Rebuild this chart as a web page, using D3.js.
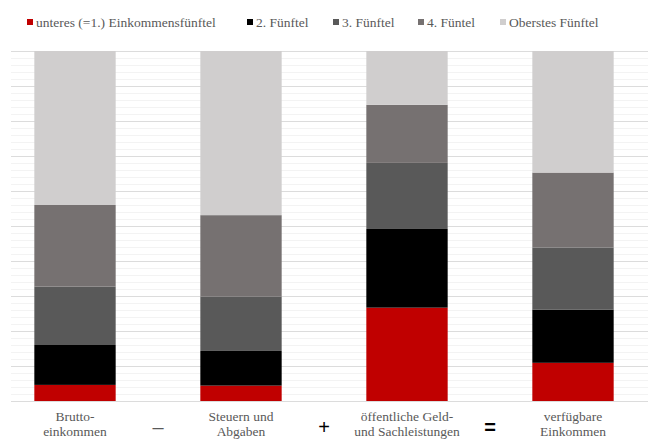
<!DOCTYPE html>
<html>
<head>
<meta charset="utf-8">
<script src="https://cdn.jsdelivr.net/npm/d3@7"></script>
<style>
  body { margin: 0; background: #fff; }
</style>
</head>
<body>
<svg width="648" height="442"></svg>
<script>
// Kategorien (x-Achse), je zwei Zeilen
const categories = ['Brutto', 'Steuern', 'Leistungen', 'Verfuegbar'];
const categoryLabels = [
  ['Brutto-', 'einkommen'],
  ['Steuern und', 'Abgaben'],
  ['öffentliche Geld-', 'und Sachleistungen'],
  ['verfügbare', 'Einkommen']
];
const operators = ['–', '+', '='];

// Anteile in % je Einkommensfünftel
const unteres  = [4.6, 4.4, 26.7, 10.9];
const zweites  = [11.4, 9.9, 22.5, 15.2];
const drittes  = [16.7, 15.5, 18.9, 17.7];
const viertes  = [23.3, 23.3, 16.6, 21.4];
const oberstes = [44.0, 46.9, 15.4, 34.7];

const seriesNames = ['unteres (=1.) Einkommensfünftel', '2. Fünftel', '3. Fünftel', '4. Füntel', 'Oberstes Fünftel'];
const seriesKeys = ['s1', 's2', 's3', 's4', 's5'];
const colors = ['#c00000', '#000000', '#595959', '#767171', '#d0cece'];

const serif = "Liberation Serif, DejaVu Serif, serif";

const table = categories.map((c, i) => ({
  cat: c, s1: unteres[i], s2: zweites[i], s3: drittes[i], s4: viertes[i], s5: oberstes[i]
}));

const svg = d3.select('svg');
const plotTop = 51, plotBottom = 401, plotLeft = 11, plotRight = 648;

// x: gleichmäßige Bänder, y: 0..100 %
const x = d3.scaleBand().domain(categories).range([-8, 656]).paddingInner(0.51).paddingOuter(0.255);
const y = d3.scaleLinear().domain([0, 1]).range([plotBottom, plotTop]);

// Hilfslinien (fein alle 2 %, stärker alle 10 %)
const minor = d3.range(0, 1.0001, 0.02);
svg.append('g').selectAll('line').data(minor).enter().append('line')
  .attr('x1', plotLeft).attr('x2', plotRight)
  .attr('y1', d => Math.round(y(d)) + 0.5).attr('y2', d => Math.round(y(d)) + 0.5)
  .attr('stroke', (d, i) => i % 5 === 0 ? '#dcdcdc' : '#f3f3f3')
  .attr('stroke-width', 1);

const stack = d3.stack().keys(seriesKeys).offset(d3.stackOffsetExpand);
const layers = stack(table);

svg.append('g').selectAll('g').data(layers).enter().append('g')
  .attr('fill', (d, i) => colors[i])
  .selectAll('rect').data(d => d).enter().append('rect')
  .attr('x', d => x(d.data.cat))
  .attr('width', x.bandwidth())
  .attr('y', d => y(d[1]))
  .attr('height', d => y(d[0]) - y(d[1]));

// x-Achsenbeschriftung
const labels = svg.append('g');
categories.forEach((c, i) => {
  const t = labels.append('text')
    .attr('x', x(c) + x.bandwidth() / 2)
    .attr('y', 421)
    .attr('text-anchor', 'middle')
    .style('font-family', serif)
    .style('font-size', '13.5px')
    .attr('fill', '#595959');
  categoryLabels[i].forEach((line, j) => {
    t.append('tspan').attr('x', x(c) + x.bandwidth() / 2).attr('dy', j === 0 ? 0 : 15).text(line);
  });
});

// Rechenzeichen zwischen den Säulen
operators.forEach((op, i) => {
  const mid = (x(categories[i]) + x.bandwidth() + x(categories[i + 1])) / 2;
  svg.append('text')
    .attr('x', mid)
    .attr('y', 434)
    .attr('text-anchor', 'middle')
    .style('font-size', '20px')
    .style('font-family', 'Liberation Sans, Arial, sans-serif')
    .style('font-weight', op === '=' ? 'bold' : 'normal')
    .attr('fill', op === '–' ? '#595959' : '#000')
    .text(op);
});

// Legende
const legendX = [27, 247, 333, 418, 500];
const legend = svg.append('g');
seriesNames.forEach((name, i) => {
  legend.append('rect')
    .attr('x', legendX[i]).attr('y', 19)
    .attr('width', 6).attr('height', 6)
    .attr('fill', colors[i]);
  legend.append('text')
    .attr('x', legendX[i] + 9).attr('y', 27)
    .style('font-family', serif)
    .style('font-size', '13.5px')
    .attr('fill', '#595959')
    .text(name);
});
</script>
</body>
</html>
